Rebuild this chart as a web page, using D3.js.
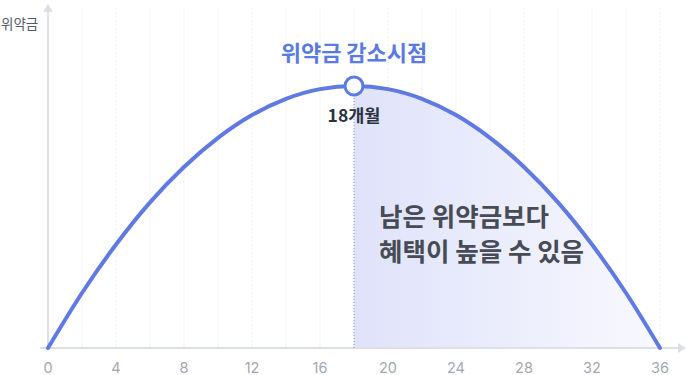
<!DOCTYPE html>
<html><head><meta charset="utf-8">
<script src="https://cdn.jsdelivr.net/npm/d3@7"></script>
<style>
html,body{margin:0;padding:0;background:#fff;}
svg{display:block;font-family:"Noto Sans CJK KR","Noto Sans",sans-serif;}
</style></head>
<body><svg id="c" width="686" height="375"></svg>
<script>
const months = [0,2,4,6,8,10,12,14,16,18,20,22,24,26,28,30,32,34,36];
const penalty = [0,21,39.5,55.6,69.1,80.2,88.9,95.1,98.8,100,98.8,95.1,88.9,80.2,69.1,55.6,39.5,21,0];
const xTicks = [0,4,8,12,16,20,24,28,32,36];
const gridMonths = [2,4,6,8,10,12,14,16,18,20,22,24,26,28,30,32,34,36];
const peakMonth = 18;
const yLabel = "위약금";
const title = "위약금 감소시점";
const peakLabel = "18개월";
const noteLines = ["남은 위약금보다","혜택이 높을 수 있음"];

const svg = d3.select("#c");
const x = d3.scaleLinear().domain([0,36]).range([48,660]);
const y = d3.scaleLinear().domain([0,100]).range([348,86]);

const defs = svg.append("defs");
const g = defs.append("linearGradient").attr("id","fillg").attr("x1","0").attr("x2","1").attr("y1","0").attr("y2","0");
g.append("stop").attr("offset","0").attr("stop-color","#dfe3fa");
g.append("stop").attr("offset","1").attr("stop-color","#f8f8fe");

// grid
svg.append("g").selectAll("line").data(gridMonths).join("line")
  .attr("x1",d=>x(d)).attr("x2",d=>x(d)).attr("y1",8).attr("y2",348)
  .attr("stroke","#f0f1f5").attr("stroke-width",1).attr("stroke-dasharray","3,1");

// area after peak
const after = months.map((m,i)=>({m,v:penalty[i]})).filter(d=>d.m>=peakMonth);
const all = months.map((m,i)=>({m,v:penalty[i]}));
svg.append("path").datum(after)
  .attr("d",d3.area().x(d=>x(d.m)).y0(y(0)).y1(d=>y(d.v)).curve(d3.curveMonotoneX))
  .attr("fill","url(#fillg)");

// axes
svg.append("line").attr("x1",48).attr("x2",48).attr("y1",6).attr("y2",348).attr("stroke","#dcdfe8").attr("stroke-width",2);
svg.append("path").attr("d","M43,12 L48,4 L53,12 Z").attr("fill","#dcdfe8");
svg.append("line").attr("x1",40).attr("x2",680).attr("y1",348).attr("y2",348).attr("stroke","#dcdfe8").attr("stroke-width",2);
svg.append("path").attr("d","M678,343 L686,348 L678,353 Z").attr("fill","#dcdfe8");

// dotted peak line
svg.append("line").attr("x1",x(peakMonth)).attr("x2",x(peakMonth)).attr("y1",y(100)).attr("y2",348)
  .attr("stroke","#7b8fe6").attr("stroke-width",1).attr("stroke-dasharray","1,2");

// curve
svg.append("path").datum(all)
  .attr("d",d3.line().x(d=>x(d.m)).y(d=>y(d.v)).curve(d3.curveMonotoneX))
  .attr("fill","none").attr("stroke","#5f7ae2").attr("stroke-width",4).attr("stroke-linecap","round");

// peak marker
svg.append("circle").attr("cx",x(peakMonth)).attr("cy",y(100)).attr("r",9)
  .attr("fill","#fff").attr("stroke","#5f7ae2").attr("stroke-width",3);

// tick labels
svg.append("g").selectAll("text").data(xTicks).join("text")
  .attr("x",d=>x(d)).attr("y",373).attr("text-anchor","middle")
  .attr("font-size",14.5).attr("fill","#a3a7b1").attr("font-family","Inter,Roboto,'Noto Sans',sans-serif").text(d=>d);

svg.append("text").attr("x",1).attr("y",29).attr("font-size",13.5).attr("fill","#555a63").text(yLabel);
svg.append("text").attr("x",x(peakMonth)).attr("y",61).attr("text-anchor","middle")
  .attr("font-size",22).attr("font-weight",700).attr("fill","#5b7be3").text(title);
svg.append("text").attr("x",x(peakMonth)).attr("y",122).attr("text-anchor","middle")
  .attr("font-size",17.5).attr("font-weight",700).attr("fill","#2c3140").text(peakLabel);
svg.append("g").selectAll("text").data(noteLines).join("text")
  .attr("x",379).attr("y",(d,i)=>226+i*35).attr("font-size",25.5).attr("font-weight",600)
  .attr("fill","#474b55").text(d=>d);
</script></body></html>
